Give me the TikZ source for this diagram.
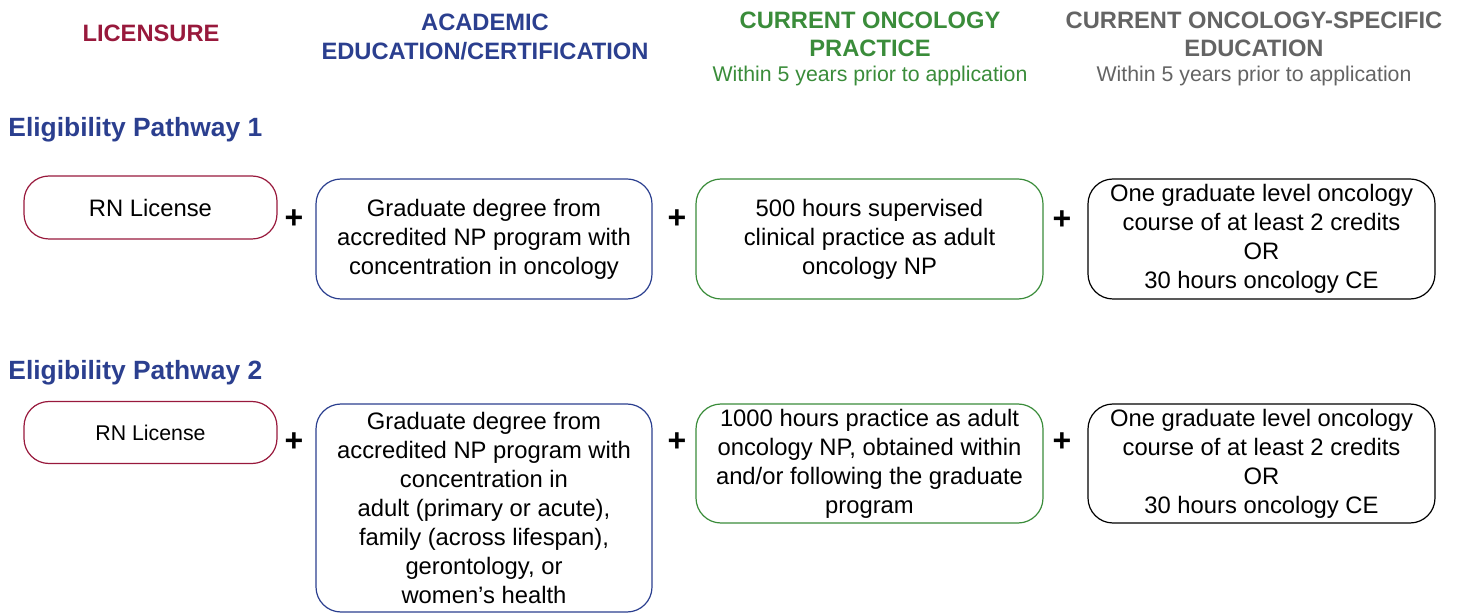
\documentclass[tikz,border=0pt]{standalone}
\usepackage{fontspec}
\setmainfont{Liberation Sans}
\usepackage{tikz}
\usetikzlibrary{calc}

\definecolor{licred}{RGB}{152,25,60}
\definecolor{acadblue}{RGB}{43,63,143}
\definecolor{pracgreen}{RGB}{58,140,58}
\definecolor{edugray}{RGB}{100,100,100}

\begin{document}
\begin{tikzpicture}[x=0.5pt,y=-0.5pt,
  box/.style={draw=#1, line width=0.6pt, rounded corners=12.5pt, inner sep=0pt,
    align=center, font=\fontsize{11.9}{14.5}\selectfont},
  plus/.style={font=\fontsize{16}{18}\selectfont\bfseries},
  head/.style={align=center, font=\fontsize{11.85}{14.3}\selectfont\bfseries, text=#1},
  sub/.style={font=\fontsize{10.65}{12.5}\selectfont, text=#1},
  path/.style={anchor=west, inner sep=0pt, text=acadblue,
    font=\fontsize{13.2}{15}\selectfont\bfseries}]
  \useasboundingbox (0,0) rectangle (1461,614) ;

  % column heads
  \node[head=licred] (hLic) at (151,33) {LICENSURE} ;
  \node[head=acadblue] (hAcad) at (485,37) {ACADEMIC\\EDUCATION/CERTIFICATION} ;
  \node[head=pracgreen] (hPrac) at (870,34.5) {CURRENT ONCOLOGY\\PRACTICE} ;
  \node[sub=pracgreen] (sPrac) at (870,76) {Within 5 years prior to application} ;
  \node[head=edugray] (hEdu) at (1254,34.5) {CURRENT ONCOLOGY-SPECIFIC\\EDUCATION} ;
  \node[sub=edugray] (sEdu) at (1254,76) {Within 5 years prior to application} ;

  % pathway 1
  \node[path] (p1) at (8,130) {Eligibility Pathway 1} ;
  \node[box=licred, minimum width=126.5pt, minimum height=31.5pt] (lic1) at (150.5,207.5) {RN License} ;
  \node[box=acadblue, minimum width=168pt, minimum height=60pt] (acad1) at (484,239)
    {Graduate degree from\\accredited NP program with\\concentration in oncology} ;
  \node[box=pracgreen, minimum width=173.5pt, minimum height=60pt] (prac1) at (869.5,239)
    {500 hours supervised\\clinical practice as adult\\oncology NP} ;
  \node[box=black, minimum width=173.5pt, minimum height=60pt] (edu1) at (1261.5,239)
    {One graduate level oncology\\course of at least 2 credits\\OR\\30 hours oncology CE} ;
  \node[plus] (a1) at (294,219) {+} ;
  \node[plus] (b1) at (677,219) {+} ;
  \node[plus] (c1) at (1062,220) {+} ;

  % pathway 2
  \node[path] (p2) at (8,373) {Eligibility Pathway 2} ;
  \node[box=licred, minimum width=126.5pt, minimum height=31pt,
    font=\fontsize{10.65}{13}\selectfont] (lic2) at (150.5,432.5) {RN License} ;
  \node[box=acadblue, minimum width=168pt, minimum height=104pt] (acad2) at (484,508)
    {Graduate degree from\\accredited NP program with\\concentration in\\adult (primary or acute),\\family (across lifespan),\\gerontology, or\\women’s health} ;
  \node[box=pracgreen, minimum width=173.5pt, minimum height=59.5pt] (prac2) at (869.5,463.5)
    {1000 hours practice as adult\\oncology NP, obtained within\\and/or following the graduate\\program} ;
  \node[box=black, minimum width=173.5pt, minimum height=59.5pt] (edu2) at (1261.5,463.5)
    {One graduate level oncology\\course of at least 2 credits\\OR\\30 hours oncology CE} ;
  \node[plus] (a2) at (294,442) {+} ;
  \node[plus] (b2) at (677,442) {+} ;
  \node[plus] (c2) at (1062,442) {+} ;

\end{tikzpicture}
\end{document}
